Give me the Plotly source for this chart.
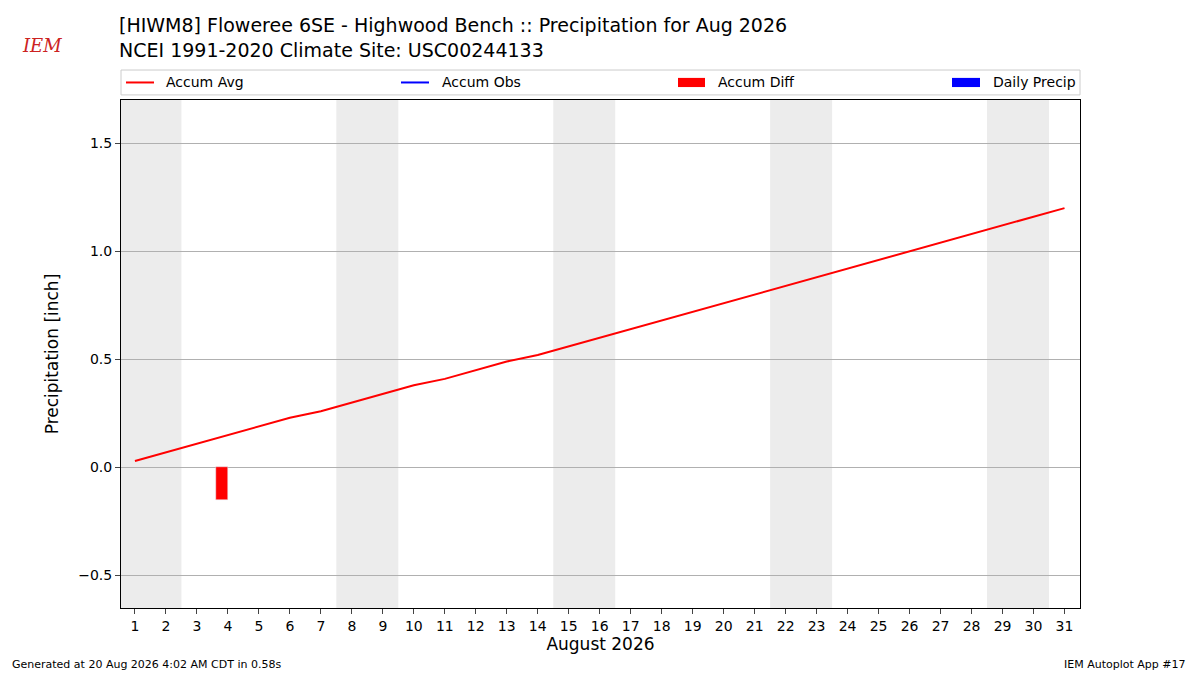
import plotly.graph_objects as go

days = list(range(1, 32))
accum_avg = [0.03,0.07,0.11,0.15,0.19,0.23,0.26,0.30,0.34,0.38,0.41,0.45,0.49,0.52,0.56,0.60,
             0.64,0.68,0.72,0.76,0.80,0.84,0.88,0.92,0.96,1.00,1.04,1.08,1.12,1.16,1.20]
diff_days = [4]
accum_diff = [-0.15]
weekend_starts = [1, 8, 15, 22, 29]
yticks = [-0.5, 0.0, 0.5, 1.0, 1.5]
ytick_text = ["\u22120.5", "0.0", "0.5", "1.0", "1.5"]

fig = go.Figure()
fig.add_trace(go.Bar(x=diff_days, y=accum_diff, marker_color="red", width=0.4, offset=-0.4, showlegend=False))
fig.add_trace(go.Scatter(x=days, y=accum_avg, mode="lines", line=dict(color="red", width=2), showlegend=False))

shapes = []
for s in weekend_starts:
    shapes.append(dict(type="rect", xref="x", yref="paper", x0=s-0.5, x1=s+1.5, y0=0, y1=1,
                       fillcolor="#ececec", line_width=0, layer="below"))
L, R = 121, 1080
def px(x): return (x - L) / (R - L)
LY0, LY1, LYC = 1.01, 1.059, 1.0345
shapes.append(dict(type="rect", xref="paper", yref="paper", x0=0, x1=1, y0=LY0, y1=LY1,
                   line=dict(color="#cccccc", width=1), fillcolor="white"))
shapes.append(dict(type="line", xref="paper", yref="paper", x0=px(126), x1=px(154), y0=LYC, y1=LYC, line=dict(color="red", width=2)))
shapes.append(dict(type="line", xref="paper", yref="paper", x0=px(401), x1=px(429), y0=LYC, y1=LYC, line=dict(color="blue", width=2)))
shapes.append(dict(type="rect", xref="paper", yref="paper", x0=px(678), x1=px(705), y0=LYC-0.009, y1=LYC+0.009, fillcolor="red", line_width=0))
shapes.append(dict(type="rect", xref="paper", yref="paper", x0=px(952), x1=px(980), y0=LYC-0.009, y1=LYC+0.009, fillcolor="blue", line_width=0))

ann = []
for xp, t in [(164, "Accum Avg"), (440, "Accum Obs"), (716, "Accum Diff"), (991, "Daily Precip")]:
    ann.append(dict(xref="paper", yref="paper", x=px(xp), y=LYC, text=t, showarrow=False,
                    xanchor="left", yanchor="middle", font=dict(size=14)))
ann.append(dict(xref="paper", yref="paper", x=px(117), y=1.072, text="[HIWM8] Floweree 6SE - Highwood Bench :: Precipitation for Aug 2026<br>NCEI 1991-2020 Climate Site: USC00244133",
                showarrow=False, xanchor="left", yanchor="bottom", align="left", font=dict(size=19)))
ann.append(dict(xref="paper", yref="paper", x=-0.116, y=-0.095, text="Generated at 20 Aug 2026 4:02 AM CDT in 0.58s",
                showarrow=False, xanchor="left", yanchor="top", font=dict(size=11)))
ann.append(dict(xref="paper", yref="paper", x=1.113, y=-0.095, text="IEM Autoplot App #17",
                showarrow=False, xanchor="right", yanchor="top", font=dict(size=11)))
ann.append(dict(xref="paper", yref="paper", x=px(20), y=1.108, text="<i>IEM</i>",
                showarrow=False, xanchor="left", yanchor="middle", font=dict(size=18, color="#cc2222", family="DejaVu Serif")))

fig.update_layout(
    width=1184, height=667, plot_bgcolor="white", paper_bgcolor="white",
    margin=dict(l=113, r=112, t=92, b=67),
    font=dict(family="DejaVu Sans", color="black", size=14),
    shapes=shapes, annotations=ann, bargap=0,
    xaxis=dict(range=[0.55, 31.5], tickvals=days, ticks="outside", showgrid=False, showline=True,
               linecolor="black", mirror=True, title=dict(text="August 2026", font=dict(size=17), standoff=4), zeroline=False),
    yaxis=dict(range=[-0.65, 1.7], tickvals=yticks, ticktext=ytick_text, ticks="outside", showgrid=True,
               gridcolor="#b0b0b0", showline=True, linecolor="black", mirror=True, zeroline=False,
               title=dict(text="Precipitation [inch]", font=dict(size=17))),
)
fig.write_html("out.html")
